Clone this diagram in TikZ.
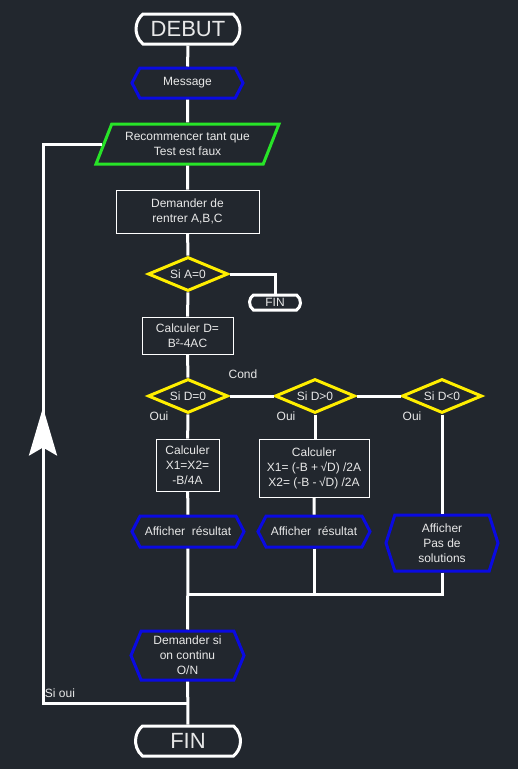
\documentclass[tikz,border=0pt]{standalone}
\usepackage{fontspec}
\setmainfont{Liberation Sans}
\usetikzlibrary{positioning, arrows.meta, shapes.geometric, shapes.misc, shapes.symbols, decorations.markings}
\definecolor{bgcol}{RGB}{34,39,46}
\definecolor{txtcol}{RGB}{232,232,232}
\definecolor{hexblue}{RGB}{10,10,225}
\definecolor{condyel}{RGB}{255,238,0}
\definecolor{loopgreen}{RGB}{40,228,40}

\begin{document}
\begin{tikzpicture}[
  x=1pt, y=-1pt,
  every node/.style={text=txtcol, font=\fontsize{12}{15}\selectfont},
  term/.style={draw=white, line width=3pt, rounded rectangle,
               rounded rectangle arc length=100, inner sep=0pt},
  hexa/.style={draw=hexblue, line width=3pt, signal, signal to=west and east,
               signal pointer angle=125, inner sep=0pt, align=center},
  proc/.style={draw=white, line width=0.9pt, rectangle, inner sep=0pt, align=center},
  cond/.style={draw=condyel, line width=3pt, diamond, aspect=2.4, inner sep=0pt,
               minimum width=80pt, minimum height=34pt},
  loopbox/.style={draw=loopgreen, line width=3pt, trapezium, trapezium left angle=61,
                  trapezium right angle=119, trapezium stretches=true,
                  inner sep=0pt, align=center},
  link/.style={draw=white, line width=3pt},
  lbl/.style={inner sep=0pt}
]
  % Background
  \fill[bgcol] (0,0) rectangle (518,769);
  \useasboundingbox (0,0) rectangle (518,769);

  % Main column
  \node[term, minimum width=104pt, minimum height=30pt, font=\fontsize{22}{26}\selectfont]
    (debut) at (188,29) {DEBUT};
  \node[hexa, minimum width=111pt, minimum height=30pt] (msg) at (187.5,83) {Message};
  \node[loopbox, minimum width=183pt, minimum height=40pt] (recom) at (187.5,144)
    {Recommencer tant que\\Test est faux};
  \node[proc, minimum width=143pt, minimum height=43pt] (ask) at (187.5,211.5)
    {Demander de\\rentrer A,B,C};
  \node[cond] (sia) at (188,274) {Si A=0};
  \node[term, minimum width=51pt, minimum height=15pt, rounded rectangle arc length=110]
    (fin1) at (275,302.5) {FIN};
  \node[proc, minimum width=91pt, minimum height=37pt] (calcd) at (187.5,335.5)
    {Calculer D=\\B²-4AC};

  % Conditions
  \node[cond] (sid0) at (188,396) {Si D=0};
  \node[cond, right=44pt of sid0] (sidp) {Si D>0};
  \node[cond, right=44pt of sidp] (sidn) {Si D<0};
  \node[lbl] at (243,374) {Cond};
  \node[lbl] at (159,416) {Oui};
  \node[lbl] at (286,416) {Oui};
  \node[lbl] at (412,416) {Oui};

  % Branches
  \node[proc, minimum width=63pt, minimum height=52pt] (calc1) at (187.5,465)
    {Calculer\\X1=X2=\\-B/4A};
  \node[proc, minimum width=110pt, minimum height=58pt] (calc2) at (314,468)
    {Calculer\\X1= (-B + \kern-1pt\textsurd D) /2A\\X2= (-B - \kern-1pt\textsurd D) /2A};
  \node[hexa, minimum width=112pt, minimum height=31pt] (aff1) at (188,531.5)
    {Afficher~ r\'esultat};
  \node[hexa, minimum width=112pt, minimum height=31pt] (aff2) at (314,531.5)
    {Afficher~ r\'esultat};
  \node[hexa, minimum width=112pt, minimum height=56pt, signal pointer angle=145]
    (aff3) at (442,543) {Afficher\\Pas de\\solutions};

  % End
  \node[hexa, minimum width=113pt, minimum height=49pt, signal pointer angle=135]
    (cont) at (187.5,655.5) {Demander si\\on continu\\O/N};
  \node[term, minimum width=105pt, minimum height=30pt, font=\fontsize{22}{26}\selectfont]
    (fin) at (188,741) {FIN};
  \node[lbl] at (60,693) {Si oui};
  \coordinate (jn) at (188,594);
  \coordinate (back) at (187.5,703);
  \coordinate (corner) at (43,703);

  % Edges
  \draw[link] (debut) -- (msg);
  \draw[link] (msg) -- (recom);
  \draw[link] (recom) -- (ask);
  \draw[link] (ask) -- (sia);
  \draw[link] (sia) -- (calcd);
  \draw[link] (sia.east) -| (fin1.north);
  \draw[link] (calcd) -- (sid0);
  \draw[link] (sid0) -- (sidp);
  \draw[link] (sidp) -- (sidn);
  \draw[link] (sid0) -- (calc1);
  \draw[link] (calc1) -- (aff1);
  \draw[link] (sidp) -- (sidp |- calc2.north);
  \draw[link] (calc2) -- (aff2);
  \draw[link] (sidn) -- (sidn |- aff3.north);
  \draw[link] (aff1) -- (cont);
  \draw[link] (aff2.south) -- (aff2.south |- jn);
  \draw[link] (aff3.south) -- (aff3.south |- jn) -- (jn);
  \draw[link] (cont) -- (fin);
  \draw[link, decoration={markings,
      mark=at position 440pt with {\arrow{Stealth[length=48pt, width=28pt, inset=8pt]}}},
    postaction={decorate}] (back) -- (corner) |- (recom.west);
\end{tikzpicture}
\end{document}
